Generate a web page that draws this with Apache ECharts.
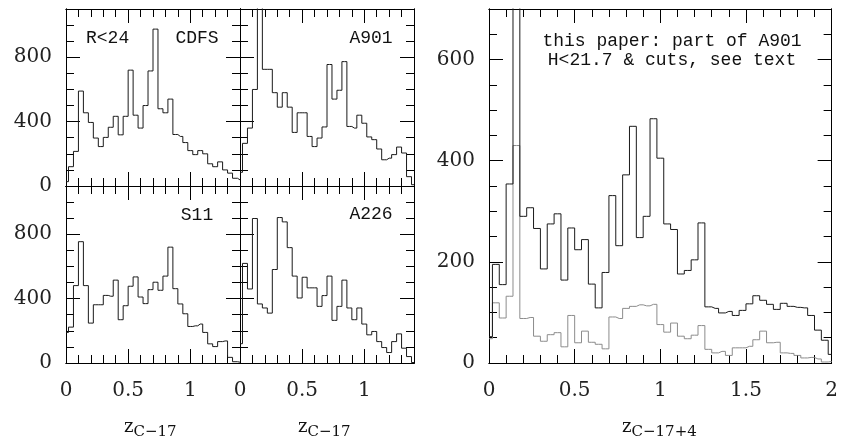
<!DOCTYPE html>
<html><head><meta charset="utf-8">
<script src="https://cdn.jsdelivr.net/npm/echarts@6/dist/echarts.min.js"></script>
<style>html,body{margin:0;padding:0;background:#fff}#c{width:841px;height:436px}</style>
</head><body><div id="c"></div>
<script>
// bin centres (redshift)
const zLeft = [0,0.04,0.08,0.12,0.16,0.2,0.24,0.28,0.32,0.36,0.4,0.44,0.48,0.52,0.56,0.6,0.64,0.68,0.72,0.76,0.8,0.84,0.88,0.92,0.96,1,1.04,1.08,1.12,1.16,1.2,1.24,1.28,1.32,1.36,1.4];
const zRight = [0,0.04,0.08,0.12,0.16,0.2,0.24,0.28,0.32,0.36,0.4,0.44,0.48,0.52,0.56,0.6,0.64,0.68,0.72,0.76,0.8,0.84,0.88,0.92,0.96,1,1.04,1.08,1.12,1.16,1.2,1.24,1.28,1.32,1.36,1.4,1.44,1.48,1.52,1.56,1.6,1.64,1.68,1.72,1.76,1.8,1.84,1.88,1.92,1.96,2];

// histogram counts
const cdfs = [27,120,215,590,455,395,298,245,302,365,433,318,433,720,440,360,500,715,975,480,455,540,320,308,270,220,195,220,200,138,120,150,100,80,48,38];
const a901 = [85,265,360,600,1250,725,725,580,490,580,490,333,455,455,308,245,298,367,755,540,595,773,370,360,440,390,305,288,230,163,173,195,242,205,58,8];
const s11 = [190,223,481,754,481,248,362,362,420,415,515,269,356,477,535,410,369,456,502,452,540,720,462,367,306,227,231,242,190,119,102,133,137,35,8,5];
const a226 = [120,619,460,898,367,342,310,581,904,877,717,540,404,533,467,467,352,419,540,265,352,515,342,269,342,242,175,196,133,96,65,133,181,92,40,3];
const thisPaper = [52,195,155,354,1100,290,307,266,186,275,295,164,267,224,244,156,109,179,331,232,372,468,248,290,483,405,275,264,176,183,204,277,111,108,99,102,94,104,117,133,124,116,106,118,112,110,109,94,65,45,17];
const thisPaperCut = [48,119,89,132,430,88,90,53,43,56,60,32,94,40,63,41,37,28,91,88,108,112,115,113,116,76,61,79,53,48,55,74,27,20,23,15,30,30,33,46,63,40,41,20,19,15,10,11,8,2,3];

// text
const panelNames = ['CDFS','A901','S11','A226'];
const magCut = 'R<24';
const rightNote1 = 'this paper: part of A901';
const rightNote2 = 'H<21.7 & cuts, see text';
const xTitleSub = 'C\u221217';
const xTitleSubRight = 'C\u221217+4';

const grids = [
  {left:66, top:9, width:174, height:177},
  {left:240, top:9, width:174, height:177},
  {left:66, top:186, width:174, height:177},
  {left:240, top:186, width:174, height:177},
  {left:489, top:9, width:349, height:354}
];
const labelFont = {fontFamily:'DejaVu Serif', fontSize:20, color:'#222'};
const xAxis = [], yAxis = [];
const axisIdx = [];
function addAxes(gi, xr, yr, showX, showY){
  const idx = {x:xAxis.length, y:yAxis.length};
  for (const pos of ['bottom','top']) for (const kind of ['major','minor']) {
    xAxis.push({gridIndex:gi, type:'value', position:pos, min:xr[0], max:xr[1],
      interval: kind==='major'?xr[2]:xr[3],
      axisLine:{show:true, onZero:false, lineStyle:{color:'#000', width:1}},
      axisTick:{show:true, inside:true, length:kind==='major'?14:8, lineStyle:{color:'#000', width:1}},
      axisLabel:Object.assign({show: showX && pos==='bottom' && kind==='major', margin:18,
        showMaxLabel: xr[4], alignMaxLabel:'center', alignMinLabel:'center', hideOverlap:false}, labelFont),
      splitLine:{show:false}});
  }
  for (const pos of ['left','right']) for (const kind of ['major','minor']) {
    yAxis.push({gridIndex:gi, type:'value', position:pos, min:yr[0], max:yr[1],
      interval: kind==='major'?yr[2]:yr[3],
      axisLine:{show:true, onZero:false, lineStyle:{color:'#000', width:1}},
      axisTick:{show:true, inside:true, length:kind==='major'?14:8, lineStyle:{color:'#000', width:1}},
      axisLabel:Object.assign({show: showY && pos==='left' && kind==='major', margin:14, showMaxLabel:false}, labelFont),
      splitLine:{show:false}});
  }
  axisIdx.push(idx);
}
const xl = [0,1.4,0.5,0.1,false], yl = [0,1100,400,100];
addAxes(0, xl, yl, false, true);
addAxes(1, xl, yl, false, false);
addAxes(2, xl, yl, true, true);
addAxes(3, xl, yl, true, false);
addAxes(4, [0,2,0.5,0.1,true], [0,700,200,50], true, true);

function hist(gi, xs, ys, color){
  return {type:'line', step:'middle', xAxisIndex:axisIdx[gi].x, yAxisIndex:axisIdx[gi].y,
    data: xs.map((x,i)=>[x, ys[i]]), symbol:'none', clip:true,
    lineStyle:{color:color, width:1}, z:3};
}
const series = [
  hist(0, zLeft, cdfs, '#1a1a1a'),
  hist(1, zLeft, a901, '#1a1a1a'),
  hist(2, zLeft, s11, '#1a1a1a'),
  hist(3, zLeft, a226, '#1a1a1a'),
  hist(4, zRight, thisPaperCut, '#8c8c8c'),
  hist(4, zRight, thisPaper, '#1a1a1a')
];

const noteFont = '18px "Liberation Mono"';
function txt(x, y, s, font, align){
  return {type:'text', x:x, y:y, z:10, style:{text:s, font:font, fill:'#111', align:align||'center', textAlign:align||'center', verticalAlign:'middle', textVerticalAlign:'middle'}};
}
const graphic = [
  txt(86, 38, magCut, noteFont, 'left'),
  txt(197, 38, panelNames[0], noteFont),
  txt(371, 38, panelNames[1], noteFont),
  txt(197, 215, panelNames[2], noteFont),
  txt(371, 214, panelNames[3], noteFont),
  txt(672, 41, rightNote1, noteFont),
  txt(672, 60, rightNote2, noteFont),
  txt(124, 427, 'z', '18px "DejaVu Serif"', 'left'),
  txt(133.5, 432, xTitleSub, '15px "DejaVu Serif"', 'left'),
  txt(298, 427, 'z', '18px "DejaVu Serif"', 'left'),
  txt(307.5, 432, xTitleSub, '15px "DejaVu Serif"', 'left'),
  txt(622, 427, 'z', '18px "DejaVu Serif"', 'left'),
  txt(631.5, 432, xTitleSubRight, '15px "DejaVu Serif"', 'left')
];

const chart = echarts.init(document.getElementById('c'), null, {renderer:'canvas'});
chart.setOption({
  animation:false,
  backgroundColor:'#fff',
  grid: grids,
  xAxis: xAxis,
  yAxis: yAxis,
  series: series,
  graphic: graphic
});
</script></body></html>
